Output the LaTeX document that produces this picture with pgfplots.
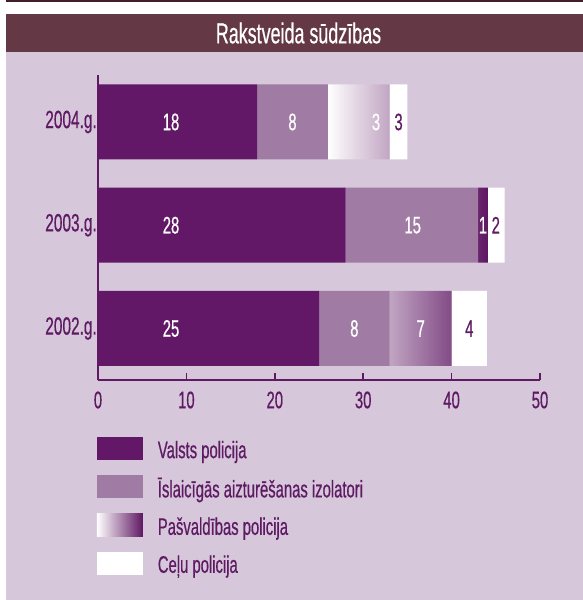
\documentclass[border=0pt]{standalone}
\usepackage{fontspec}
\setmainfont{Liberation Sans}[FakeStretch=0.62, FakeBold=0.5]
\usepackage{pgfplots}
\pgfplotsset{compat=1.18}

% Colores
\definecolor{colorDark}{HTML}{621866}
\definecolor{colorMid}{HTML}{A07BA3}
\definecolor{colorGradEnd}{HTML}{5E1662}
\definecolor{colorText}{HTML}{5E1A63}
\definecolor{colorTitle}{HTML}{643844}
\definecolor{colorTopLine}{HTML}{3F1F2B}
\definecolor{colorBg}{HTML}{D7C7DB}

\def\labelFont{\fontsize{24}{26}\selectfont}

\begin{document}
\begin{tikzpicture}
\useasboundingbox (0bp,0bp) rectangle (583bp,-600bp);

% === FONDO Y TÍTULO ===
\fill[white] (0bp,0bp) rectangle (583bp,-600bp);
\fill[colorTopLine] (6bp,0bp) rectangle (583bp,-1.5bp);
\fill[colorTitle] (6bp,-14bp) rectangle (583bp,-52bp);
\fill[colorBg] (6bp,-52bp) rectangle (583bp,-600bp);
\node[white, font=\fontsize{29}{31}\selectfont] at (298.5bp,-33bp) {Rakstveida sūdzības};

% === GRÁFICO ===
\begin{axis}[
    at={(98bp,-380bp)}, anchor=south west,
    scale only axis,
    width=442bp, height=305bp,
    xmin=0, xmax=50,
    ymin=-0.499, ymax=2.455,
    enlargelimits=false,
    clip=false,
    xbar stacked,
    bar width=75bp,
    axis x line=bottom, axis y line=left,
    axis line style={-, line width=2bp, color=colorText},
    xtick={0,10,...,50},
    tick align=inside,
    major tick length=7bp,
    xtick style={line width=1.5bp, color=colorText},
    ytick={0,1,2},
    yticklabels={2002.g., 2003.g., 2004.g.},
    ytick style={draw=none},
    /pgf/number format/assume math mode=true,
    xticklabel style={font=\labelFont, text=colorText, yshift=-8bp},
    yticklabel style={font=\fontsize{25}{27}\selectfont, text=colorText, inner xsep=1bp},
    legend style={
        at={(-0.003,-0.187)}, anchor=north west,
        draw=none, fill=none,
        inner sep=0pt,
        nodes={inner sep=0pt, text=colorText, font=\labelFont},
        row sep=15bp,
        /tikz/every odd column/.append style={column sep=15bp},
    },
    legend cell align=left,
]

% Valsts policija
\addplot[fill=colorDark, draw=none, forget plot] coordinates {(25,0) (28,1) (18,2)};
% Īslaicīgās aizturēšanas izolatori
\addplot[fill=colorMid, draw=none, forget plot] coordinates {(8,0) (15,1) (8,2)};
% Pašvaldības policija (longitud dibujada según la imagen; en 2004 la etiqueta dice 3)
\addplot[left color=white, right color=colorGradEnd, draw=none, forget plot] coordinates {(7,0) (1.1,1) (7,2)};
% Ceļu policija
\addplot[fill=white, draw=none, forget plot] coordinates {(4,0) (1.9,1) (2,2)};

% === LEYENDA ===
\addlegendimage{legend image code/.code={\path[fill=colorDark, draw=none] (0bp,-10bp) rectangle (46bp,13bp);}}
\addlegendentry{Valsts policija}
\addlegendimage{legend image code/.code={\path[fill=colorMid, draw=none] (0bp,-10bp) rectangle (46bp,13bp);}}
\addlegendentry{Īslaicīgās aizturēšanas izolatori}
\addlegendimage{legend image code/.code={\path[left color=white, right color=colorGradEnd, draw=none] (0bp,-10bp) rectangle (46bp,13bp);}}
\addlegendentry{Pašvaldības policija}
\addlegendimage{legend image code/.code={\path[fill=white, draw=none] (0bp,-10bp) rectangle (46bp,13bp);}}
\addlegendentry{Ceļu policija}

% === POSICIONES DE ETIQUETAS ===
\coordinate (a1) at (axis cs:8.26,2);
\coordinate (a2) at (axis cs:22,2);
\coordinate (a3) at (axis cs:31.45,2);
\coordinate (a4) at (axis cs:34,2);
\coordinate (b1) at (axis cs:8.26,1);
\coordinate (b2) at (axis cs:35.6,1);
\coordinate (b3) at (axis cs:43.55,1);
\coordinate (b4) at (axis cs:45,1);
\coordinate (c1) at (axis cs:8.26,0);
\coordinate (c2) at (axis cs:29,0);
\coordinate (c3) at (axis cs:36.5,0);
\coordinate (c4) at (axis cs:42,0);
\end{axis}

% === ETIQUETAS (encima de las barras) ===
\begin{scope}[every node/.style={font=\labelFont}]
\node[text=white] at (a1) {18};
\node[text=white] at (a2) {8};
\node[text=white] at (a3) {3};
\node[text=colorText] at (a4) {3};
\node[text=white] at (b1) {28};
\node[text=white] at (b2) {15};
\node[text=white] at (b3) {1};
\node[text=colorText] at (b4) {2};
\node[text=white] at (c1) {25};
\node[text=white] at (c2) {8};
\node[text=white] at (c3) {7};
\node[text=colorText] at (c4) {4};
\end{scope}
\end{tikzpicture}
\end{document}
